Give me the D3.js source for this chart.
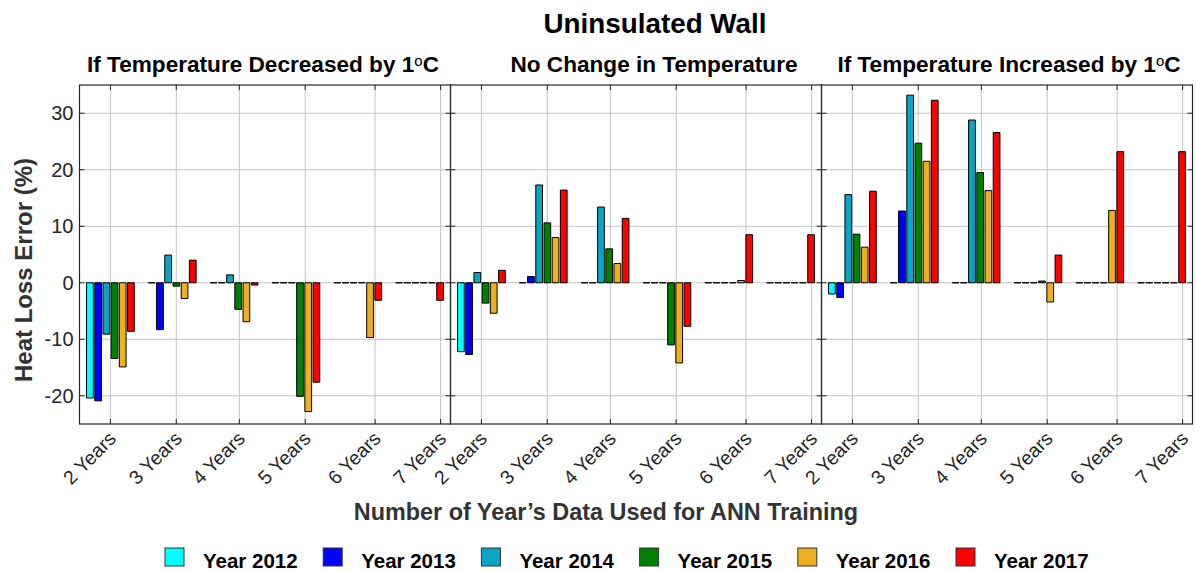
<!DOCTYPE html>
<html>
<head>
<meta charset="utf-8">
<script src="https://cdn.jsdelivr.net/npm/d3@7"></script>
<style>
  html, body { margin: 0; padding: 0; background: #fff; }
  svg { display: block; font-family: "Liberation Sans", Arial, sans-serif; }
</style>
</head>
<body>
<svg id="chart" width="1196" height="571"></svg>
<script>
// ---------- data ----------
const categories = ["2 Years", "3 Years", "4 Years", "5 Years", "6 Years", "7 Years"];
const seriesNames = ["Year 2012", "Year 2013", "Year 2014", "Year 2015", "Year 2016", "Year 2017"];
const seriesColors = ["#00FFFF", "#0000FF", "#0AA5C5", "#008000", "#EDB120", "#FF0000"];
const xTickValues = [0, 1.065, 2.085, 3.15, 4.28, 5.34];
const yTickValues = [-20, -10, 0, 10, 20, 30];
const panelTitles = ["If Temperature Decreased by 1", "No Change in Temperature", "If Temperature Increased by 1"];

// rows = series (2012..2017), columns = categories
const decreasedValues = [
  [-20.4, 0, 0, 0, 0, 0],
  [-20.9, -8.3, 0, 0, 0, 0],
  [-9.1, 4.9, 1.4, 0, 0, 0],
  [-13.4, -0.6, -4.7, -20.1, 0, 0],
  [-14.9, -2.8, -6.9, -22.8, -9.7, 0],
  [-8.6, 4.0, -0.4, -17.6, -3.1, -3.1]
];
const noChangeValues = [
  [-12.2, 0, 0, 0, 0, 0],
  [-12.7, 1.1, 0, 0, 0, 0],
  [1.8, 17.3, 13.4, 0, 0, 0],
  [-3.6, 10.6, 6.0, -11.0, 0, 0],
  [-5.4, 8.0, 3.4, -14.2, 0.4, 0],
  [2.2, 16.4, 11.4, -7.7, 8.5, 8.5]
];
const increasedValues = [
  [-2.0, 0, 0, 0, 0, 0],
  [-2.6, 12.7, 0, 0, 0, 0],
  [15.6, 33.2, 28.8, 0, 0, 0],
  [8.6, 24.7, 19.5, 0.3, 0, 0],
  [6.3, 21.5, 16.3, -3.4, 12.8, 0],
  [16.2, 32.3, 26.6, 4.9, 23.2, 23.2]
];
const panelValues = [decreasedValues, noChangeValues, increasedValues];

// ---------- layout ----------
const svg = d3.select("#chart");
const plotTop = 85, plotBottom = 424;
const panelEdges = [79.5, 450.5, 821.5, 1192.5];
const y = d3.scaleLinear().domain([-25, 35]).range([plotBottom, plotTop]);
const axisColor = "#262626";
const gridColor = "#c4c4c4";

panelValues.forEach((values, p) => {
  const left = panelEdges[p], right = panelEdges[p + 1];
  const g = svg.append("g");
  const xLin = d3.scaleLinear().domain([-0.5, categories.length - 0.5]).range([left, right]);
  const x0 = d3.scaleBand().domain(categories).range([left, right]).padding(0);
  const x1 = d3.scaleBand().domain(seriesNames).range([0, x0.bandwidth()])
    .paddingInner(0.18).paddingOuter(0.86);

  // grid
  g.selectAll(".vgrid").data(xTickValues).join("line")
    .attr("x1", d => xLin(d)).attr("x2", d => xLin(d))
    .attr("y1", plotTop).attr("y2", plotBottom)
    .attr("stroke", gridColor).attr("stroke-width", 1);
  g.selectAll(".hgrid").data(yTickValues).join("line")
    .attr("x1", left).attr("x2", right)
    .attr("y1", d => y(d)).attr("y2", d => y(d))
    .attr("stroke", gridColor).attr("stroke-width", 1);

  // bars (drawn as paths so zero-height bars still show their outline)
  seriesNames.forEach((s, si) => {
    g.append("g").selectAll("path")
      .data(values[si].map((v, ci) => ({ v, c: categories[ci] })))
      .join("path")
      .attr("d", d => {
        const bx = x0(d.c) + x1(s), bw = x1.bandwidth();
        const y0 = y(0), y1 = y(d.v);
        return `M${bx},${y0}H${bx + bw}V${y1}H${bx}Z`;
      })
      .attr("fill", seriesColors[si])
      .attr("stroke", "#000")
      .attr("stroke-width", 1);
  });

  // tick marks (inside)
  const tl = 5;
  xTickValues.forEach(t => {
    g.append("line").attr("x1", xLin(t)).attr("x2", xLin(t)).attr("y1", plotBottom).attr("y2", plotBottom - tl)
      .attr("stroke", axisColor);
    g.append("line").attr("x1", xLin(t)).attr("x2", xLin(t)).attr("y1", plotTop).attr("y2", plotTop + tl)
      .attr("stroke", axisColor);
  });
  yTickValues.forEach(t => {
    g.append("line").attr("x1", left).attr("x2", left + tl).attr("y1", y(t)).attr("y2", y(t))
      .attr("stroke", axisColor);
    g.append("line").attr("x1", right).attr("x2", right - tl).attr("y1", y(t)).attr("y2", y(t))
      .attr("stroke", axisColor);
  });

  // frame
  g.append("rect").attr("x", left).attr("y", plotTop).attr("width", right - left).attr("height", plotBottom - plotTop)
    .attr("fill", "none").attr("stroke", axisColor).attr("stroke-width", 1.2);

  // x tick labels
  g.selectAll(".xlab").data(xTickValues).join("text")
    .attr("transform", d => `translate(${xLin(d) + 2},${plotBottom + 11}) rotate(-45)`)
    .attr("text-anchor", "end")
    .attr("dy", "0.35em")
    .attr("font-size", 19.5)
    .attr("fill", axisColor)
    .text((d, i) => categories[i]);

  // y tick labels (first panel only)
  if (p === 0) {
    g.selectAll(".ylab").data(yTickValues).join("text")
      .attr("x", left - 6).attr("y", d => y(d))
      .attr("dy", "0.36em")
      .attr("text-anchor", "end")
      .attr("font-size", 20)
      .attr("fill", axisColor)
      .text(d => d);
  }

  // panel title
  const titleX = [263, 654, 1009][p];
  const t = svg.append("text")
    .attr("x", titleX).attr("y", 72)
    .attr("text-anchor", "middle")
    .attr("font-size", 22.6).attr("font-weight", "bold").attr("fill", "#000")
    .text(panelTitles[p]);
  if (p !== 1) {
    t.append("tspan").attr("font-size", 15).attr("font-weight", "normal").attr("dy", -6).text("o");
    t.append("tspan").attr("dy", 6).text("C");
  }
});

// main title
svg.append("text").attr("x", 655).attr("y", 33).attr("text-anchor", "middle")
  .attr("font-size", 27.8).attr("font-weight", "bold").attr("fill", "#000")
  .text("Uninsulated Wall");

// y axis title
svg.append("text")
  .attr("transform", "translate(32,270) rotate(-90)")
  .attr("text-anchor", "middle")
  .attr("font-size", 24).attr("font-weight", "bold").attr("fill", "#333")
  .text("Heat Loss Error (%)");

// x axis title
svg.append("text").attr("x", 606).attr("y", 520).attr("text-anchor", "middle")
  .attr("font-size", 23.4).attr("font-weight", "bold").attr("fill", "#333")
  .text("Number of Year\u2019s Data Used for ANN Training");

// legend
const legend = svg.append("g");
const legendX = d3.scaleLinear().domain([0, seriesNames.length - 1]).range([165, 956]);
seriesNames.forEach((s, i) => {
  const lg = legend.append("g").attr("transform", `translate(${legendX(i)},548)`);
  lg.append("rect").attr("width", 19).attr("height", 18)
    .attr("fill", seriesColors[i]).attr("stroke", "#333").attr("stroke-width", 1);
  lg.append("text").attr("x", 38).attr("y", 19.5)
    .attr("font-size", 20.5).attr("font-weight", "bold").attr("fill", "#000")
    .text(s);
});
</script>
</body>
</html>
